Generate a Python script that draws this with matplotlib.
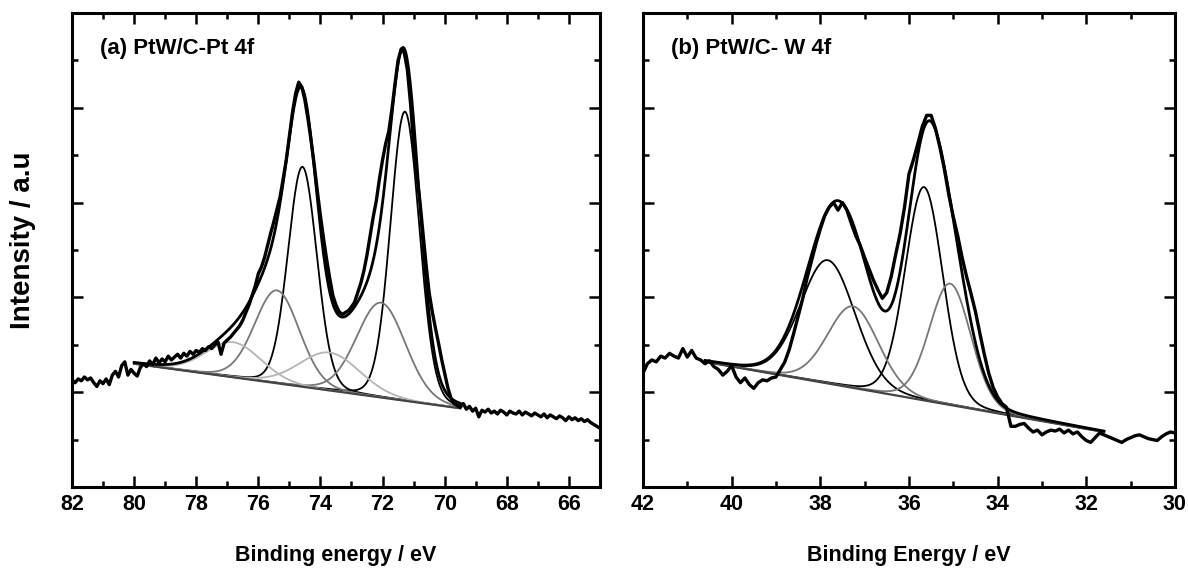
import matplotlib.pyplot as plt
import numpy as np
from matplotlib.ticker import MultipleLocator, NullFormatter

plt.rcParams['font.family'] = ['Liberation Sans', 'DejaVu Sans']
plt.rcParams['font.weight'] = 'bold'

# (a) Pt 4f -- measured spectrum, 82.0 -> 65.0 eV every 0.1 eV
pt_raw = [
    1.13, 1.10, 1.14, 1.12, 1.16, 1.13, 1.15, 1.10, 1.06, 1.12,
    1.09, 1.14, 1.08, 1.18, 1.22, 1.16, 1.28, 1.32, 1.18, 1.24,
    1.20, 1.17, 1.26, 1.30, 1.27, 1.33, 1.29, 1.36, 1.31, 1.35,
    1.32, 1.38, 1.34, 1.37, 1.40, 1.36, 1.41, 1.38, 1.43, 1.40,
    1.44, 1.42, 1.46, 1.44, 1.48, 1.46, 1.50, 1.53, 1.40, 1.52,
    1.55, 1.58, 1.62, 1.66, 1.70, 1.76, 1.84, 1.92, 2.02, 2.12,
    2.25, 2.32, 2.42, 2.55, 2.68, 2.80, 2.93, 3.06, 3.25, 3.45,
    3.70, 3.95, 4.15, 4.27, 4.22, 4.08, 3.88, 3.65, 3.40, 3.12,
    2.86, 2.62, 2.40, 2.20, 2.02, 1.92, 1.85, 1.82, 1.84, 1.86,
    1.90, 1.95, 2.05, 2.15, 2.28, 2.45, 2.65, 2.85, 3.02, 3.25,
    3.45, 3.62, 3.75, 3.98, 4.25, 4.50, 4.62, 4.58, 4.40, 4.05,
    3.62, 3.30, 3.02, 2.68, 2.35, 2.05, 1.85, 1.68, 1.52, 1.35,
    1.20, 1.05, 0.94, 0.88, 0.86, 0.84, 0.88, 0.82, 0.85, 0.80,
    0.83, 0.74, 0.81, 0.79, 0.82, 0.78, 0.80, 0.77, 0.81, 0.79,
    0.76, 0.80, 0.78, 0.77, 0.80, 0.76, 0.79, 0.77, 0.75, 0.78,
    0.76, 0.74, 0.77, 0.73, 0.76, 0.74, 0.72, 0.75, 0.73, 0.70,
    0.74, 0.71, 0.73, 0.70, 0.72, 0.69, 0.71, 0.68, 0.66, 0.64,
    0.62,
]
pt_bg_x = [80.0, 69.5]
pt_bg_y = [1.30, 0.83]
# fitted components: centre (eV), height above background, FWHM (eV), colour
pt_centres = [71.28, 74.58, 72.05, 75.40, 73.70, 76.80]
pt_heights = [3.05, 2.32, 1.00, 0.98, 0.40, 0.37]
pt_fwhm = [1.10, 1.10, 1.85, 1.70, 2.30, 2.10]
pt_colors = ['black', 'black', '#777777', '#777777', '#b5b5b5', '#b5b5b5']

# (b) W 4f -- measured spectrum, 42.0 -> 30.0 eV every 0.1 eV
w_raw = [
    1.20, 1.30, 1.34, 1.32, 1.38, 1.36, 1.41, 1.38, 1.36, 1.46,
    1.37, 1.44, 1.36, 1.34, 1.30, 1.33, 1.27, 1.24, 1.18, 1.22,
    1.28, 1.16, 1.10, 1.15, 1.08, 1.04, 1.10, 1.13, 1.12, 1.15,
    1.16, 1.24, 1.32, 1.45, 1.62, 1.80, 1.98, 2.20, 2.38, 2.56,
    2.72, 2.86, 2.95, 3.00, 2.92, 3.00, 2.92, 2.78, 2.65, 2.55,
    2.42, 2.30, 2.18, 2.08, 1.99, 2.05, 2.22, 2.45, 2.67, 2.95,
    3.30, 3.45, 3.62, 3.80, 3.92, 3.92, 3.78, 3.58, 3.35, 3.08,
    2.85, 2.65, 2.42, 2.22, 2.04, 1.85, 1.62, 1.40, 1.20, 1.05,
    0.95, 0.88, 0.84, 0.64, 0.64, 0.66, 0.67, 0.62, 0.58, 0.60,
    0.55, 0.58, 0.60, 0.59, 0.61, 0.57, 0.60, 0.56, 0.58, 0.53,
    0.49, 0.47, 0.52, 0.57, 0.55, 0.53, 0.51, 0.49, 0.47, 0.50,
    0.52, 0.54, 0.55, 0.53, 0.51, 0.50, 0.49, 0.53, 0.56, 0.58,
    0.57,
]
w_bg_x = [40.6, 31.6]
w_bg_y = [1.32, 0.58]
w_centres = [35.66, 37.83, 35.07, 37.26]
w_heights = [2.25, 1.30, 1.28, 0.86]
w_fwhm = [1.00, 1.45, 1.10, 1.35]
w_colors = ['black', 'black', '#777777', '#777777']


def peak(x, c, h, w, eta=0.1):
    # pseudo-Voigt line shape used for the fit components
    g = np.exp(-4 * np.log(2) * ((x - c) / w) ** 2)
    lor = 1 / (1 + 4 * ((x - c) / w) ** 2)
    return h * ((1 - eta) * g + eta * lor)


def panel(ax, x0, x1, raw, bg_x, bg_y, centres, heights, fwhm, colors, title, xlabel):
    e = np.linspace(x0, x1, len(raw))
    fit_x = np.linspace(bg_x[0], bg_x[1], 400)
    bg = np.interp(fit_x, bg_x[::-1], bg_y[::-1])
    ax.plot(e, raw, color='black', lw=2.4, zorder=3)
    total = bg.copy()
    for c, h, w, col in zip(centres, heights, fwhm, colors):
        comp = peak(fit_x, c, h, w)
        total += comp
        ax.plot(fit_x, bg + comp, color=col, lw=1.3, zorder=2)
    ax.plot(fit_x, bg, color='#444444', lw=1.6, zorder=2)
    ax.plot(fit_x, total, color='black', lw=2.0, zorder=3)

    ax.set_xlim(x0, x1)
    ax.set_ylim(0, 5)
    ax.xaxis.set_major_locator(MultipleLocator(2))
    ax.xaxis.set_minor_locator(MultipleLocator(1))
    ax.yaxis.set_major_locator(MultipleLocator(1))
    ax.yaxis.set_minor_locator(MultipleLocator(0.5))
    ax.yaxis.set_major_formatter(NullFormatter())
    ax.tick_params(which='both', direction='in', top=True, right=True, width=1.8)
    ax.tick_params(which='major', length=8, labelsize=15.5, pad=5)
    ax.tick_params(which='minor', length=4)
    for lab in ax.get_xticklabels():
        lab.set_fontweight('bold')
    for sp in ax.spines.values():
        sp.set_linewidth(2.2)
    ax.text(0.053, 0.925, title, transform=ax.transAxes, fontsize=16,
            fontweight='bold', va='center')
    ax.set_xlabel(xlabel, fontsize=15.5, fontweight='bold', labelpad=22)


fig = plt.figure(figsize=(11.88, 5.74), dpi=100)
ax1 = fig.add_axes([0.0606, 0.1516, 0.4444, 0.8258])
ax2 = fig.add_axes([0.5412, 0.1516, 0.4478, 0.8258])

panel(ax1, 82, 65, pt_raw, pt_bg_x, pt_bg_y, pt_centres, pt_heights, pt_fwhm, pt_colors,
      '(a) PtW/C-Pt 4f', 'Binding energy / eV')
panel(ax2, 42, 30, w_raw, w_bg_x, w_bg_y, w_centres, w_heights, w_fwhm, w_colors,
      '(b) PtW/C- W 4f', 'Binding Energy / eV')
ax1.set_ylabel('Intensity / a.u', fontsize=20, fontweight='bold')
ax1.yaxis.set_label_coords(-0.068, 0.52)

plt.savefig('out.png', dpi=100)
